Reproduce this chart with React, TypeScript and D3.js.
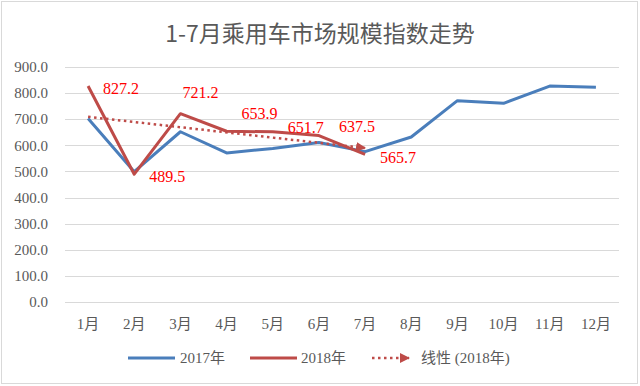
import React from 'react';
import * as d3 from 'd3';

const months = ['1月', '2月', '3月', '4月', '5月', '6月', '7月', '8月', '9月', '10月', '11月', '12月'];
const values2017 = [703, 499, 652, 571, 588, 611, 576, 632, 771, 761, 827, 822];
const values2018 = [827.2, 489.5, 721.2, 653.9, 651.7, 637.5, 565.7];
const yTicks = [0, 100, 200, 300, 400, 500, 600, 700, 800, 900];

// label placement for 2018 values (dx to left edge, dy to middle)
const labelNudge: [number, number][] = [[15, 2], [15, 2], [2, -21], [15, -18], [15, -4], [20, -9], [15, 3]];

const W = 640;
const H = 386;
const plot = { left: 65, right: 619, top: 67, bottom: 302 };
const serif = '"Liberation Serif", "Times New Roman", "Noto Sans CJK SC", serif';
const textGray = '#595959';
const blue = '#4A7EBB';
const red = '#BE4B48';

const App: React.FC = () => {
    const x = d3.scaleBand<string>().domain(months).range([plot.left, plot.right]).padding(0);
    const cx = (i: number) => (x(months[i]) as number) + x.bandwidth() / 2;
    const y = d3.scaleLinear().domain([0, 900]).range([plot.bottom, plot.top]);

    const line = d3
        .line<number>()
        .x((_, i) => cx(i))
        .y((d) => y(d));

    // linear trend of 2018 values (least squares)
    const xs = values2018.map((_, i) => i + 1);
    const mx = d3.mean(xs) as number;
    const my = d3.mean(values2018) as number;
    const slope =
        (d3.sum(xs, (v, i) => (v - mx) * (values2018[i] - my)) as number) /
        (d3.sum(xs, (v) => (v - mx) * (v - mx)) as number);
    const trendAt = (v: number) => my + slope * (v - mx);
    const trendStart = trendAt(1);
    const trendEnd = trendAt(values2018.length);

    return (
        <svg width={W} height={H} style={{ position: 'absolute', left: 0, top: 0, display: 'block' }}>
            <defs>
                <marker id="arrow" viewBox="0 0 10 10" refX="9" refY="5" markerWidth="4" markerHeight="4" orient="auto" markerUnits="strokeWidth">
                    <path d="M0,0 L10,5 L0,10 z" fill={red} />
                </marker>
            </defs>
            <rect x={0} y={0} width={W} height={H} fill="#fff" />
            <rect x={1.5} y={1.5} width={636} height={382} fill="#fff" stroke="#D9D9D9" />

            <text x={320} y={42} textAnchor="middle" fontFamily='"Noto Sans CJK SC", "Noto Sans", sans-serif' fontSize={23} fill={textGray}>
                1-7月乘用车市场规模指数走势
            </text>

            {yTicks.map((t) => (
                <g key={t}>
                    <line x1={plot.left} x2={plot.right} y1={Math.round(y(t)) + 0.5} y2={Math.round(y(t)) + 0.5} stroke="#D9D9D9" />
                    <text x={48} y={y(t)} dy="0.35em" textAnchor="end" fontFamily={serif} fontSize={15} fill={textGray}>
                        {d3.format('.1f')(t)}
                    </text>
                </g>
            ))}

            {months.map((m, i) => (
                <text key={m} x={cx(i)} y={324} dy="0.35em" textAnchor="middle" fontFamily={serif} fontSize={15} fill={textGray}>
                    {m}
                </text>
            ))}

            <path d={line(values2017) || ''} fill="none" stroke={blue} strokeWidth={3} strokeLinejoin="round" />
            <path d={line(values2018) || ''} fill="none" stroke={red} strokeWidth={3} strokeLinejoin="round" />
            <line
                x1={cx(0)}
                y1={y(trendStart)}
                x2={cx(values2018.length - 1)}
                y2={y(trendEnd)}
                stroke={red}
                strokeWidth={2.5}
                strokeDasharray="2.5,3.5"
                markerEnd="url(#arrow)"
            />

            {values2018.map((v, i) => (
                <text
                    key={i}
                    x={cx(i) + labelNudge[i][0]}
                    y={y(v) + labelNudge[i][1]}
                    dy="0.35em"
                    fontFamily={serif}
                    fontSize={16}
                    fill="#FF0000"
                >
                    {d3.format('.1f')(v)}
                </text>
            ))}

            <g fontFamily={serif} fontSize={15} fill={textGray}>
                <line x1={128} x2={175} y1={358} y2={358} stroke={blue} strokeWidth={3} />
                <text x={180} y={358} dy="0.35em">2017年</text>
                <line x1={250} x2={297} y1={358} y2={358} stroke={red} strokeWidth={3} />
                <text x={301} y={358} dy="0.35em">2018年</text>
                <line x1={372} x2={409} y1={358} y2={358} stroke={red} strokeWidth={2.5} strokeDasharray="2.5,3.5" markerEnd="url(#arrow)" />
                <text x={421} y={358} dy="0.35em">线性 (2018年)</text>
            </g>
        </svg>
    );
};

export default App;
